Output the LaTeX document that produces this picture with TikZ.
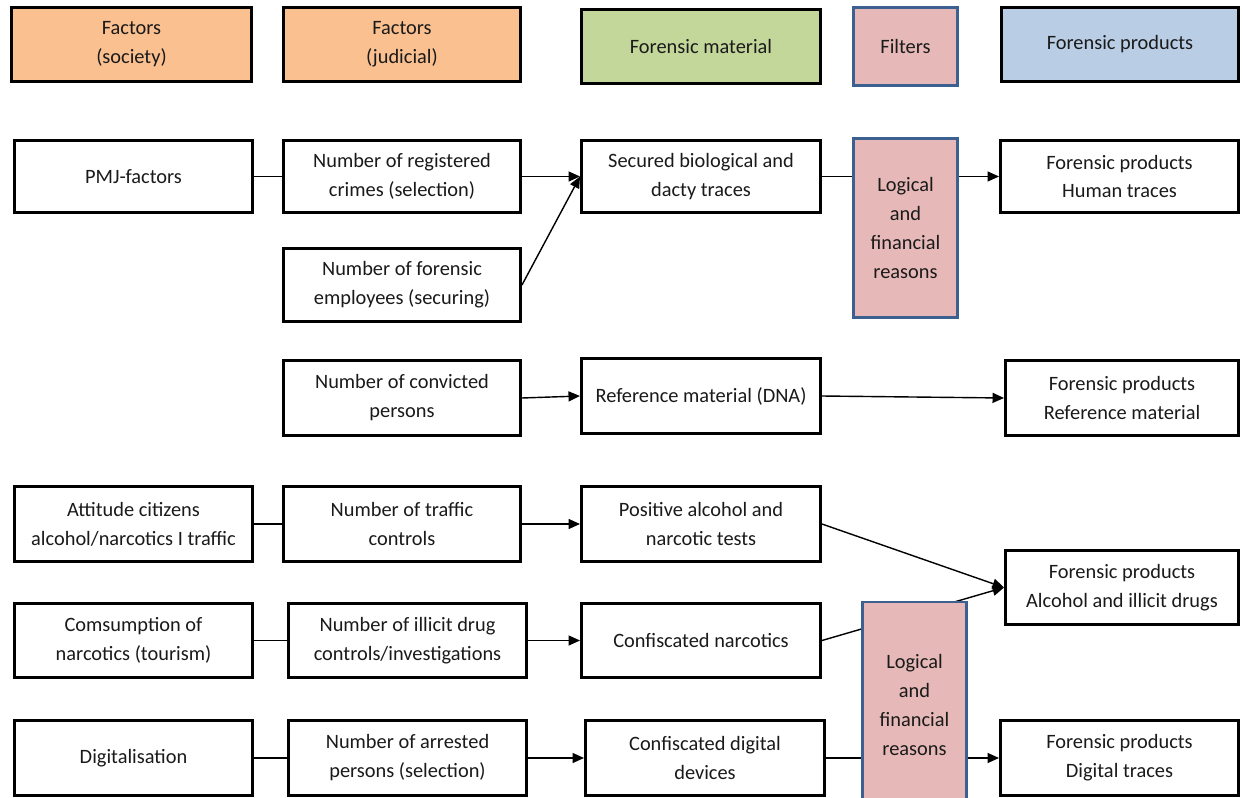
\documentclass[tikz,border=0pt]{standalone}
\usepackage{fontspec}
\setmainfont{Carlito}
\usetikzlibrary{arrows.meta,backgrounds}

\definecolor{socorange}{HTML}{FAC090}
\definecolor{matgreen}{HTML}{C4D79B}
\definecolor{filtpink}{HTML}{E6B9B8}
\definecolor{prodblue}{HTML}{B9CDE5}
\definecolor{filtedge}{HTML}{3C6090}
\definecolor{txtgray}{HTML}{1A1A1A}

\tikzset{
    box/.style={draw=black, line width=1.7pt, fill=white, align=center, inner sep=0pt,
        text=txtgray, font=\fontsize{11.6}{16.5}\selectfont},
    filterbox/.style={box, draw=filtedge, line width=1.5pt, fill=filtpink},
    link/.style={line width=0.8pt},
    flow/.style={link, -{Triangle[length=2.3mm,width=2mm]}}
}

\begin{document}
\begin{tikzpicture}[x=0.02cm, y=-0.02cm]
        \useasboundingbox (0, 0) rectangle (1242, 798);
        % header row
        \node[box, fill=socorange, minimum width=4.8cm, minimum height=1.47cm] (fsoc) at (131.5, 44.5) {Factors\\(society)};
        \node[box, fill=socorange, minimum width=4.74cm, minimum height=1.47cm] (fjud) at (402, 44.5) {Factors\\(judicial)};
        \node[box, fill=matgreen, minimum width=4.78cm, minimum height=1.47cm] (fmat) at (701, 46.5) {Forensic material};
        \node[filterbox, minimum width=2.07cm, minimum height=1.55cm] (filt) at (905.5, 46.5) {Filters};
        \node[box, fill=prodblue, minimum width=4.74cm, minimum height=1.47cm] (fprod) at (1120, 44.5) {Forensic products};
        % human traces
        \node[box, minimum width=4.76cm, minimum height=1.43cm] (pmj) at (133.5, 176.5) {PMJ-factors};
        \node[box, minimum width=4.74cm, minimum height=1.43cm] (regcr) at (402, 176.5) {Number of registered\\crimes (selection)};
        \node[box, minimum width=4.78cm, minimum height=1.43cm] (secur) at (701, 176.5) {Secured biological and\\dacty traces};
        \node[filterbox, minimum width=2.07cm, minimum height=3.57cm] (lfr1) at (905.5, 228) {Logical\\and\\financial\\reasons};
        \node[box, minimum width=4.76cm, minimum height=1.43cm] (human) at (1119.5, 176.5) {Forensic products\\Human traces};
        \node[box, minimum width=4.74cm, minimum height=1.45cm] (employ) at (402, 285) {Number of forensic\\employees (securing)};
        % reference material
        \node[box, minimum width=4.74cm, minimum height=1.49cm] (convict) at (402, 398) {Number of convicted\\persons};
        \node[box, minimum width=4.78cm, minimum height=1.49cm] (refmat) at (701, 396) {Reference material (DNA)};
        \node[box, minimum width=4.66cm, minimum height=1.49cm] (prodref) at (1122, 398) {Forensic products\\Reference material};
        % alcohol, drugs, digital
        \node[box, minimum width=4.76cm, minimum height=1.49cm] (attit) at (133.5, 524) {Attitude citizens\\alcohol/narcotics I traffic};
        \node[box, minimum width=4.74cm, minimum height=1.49cm] (traffic) at (402, 524) {Number of traffic\\controls};
        \node[box, minimum width=4.78cm, minimum height=1.49cm] (posit) at (701, 524) {Positive alcohol and\\narcotic tests};
        \node[box, minimum width=4.66cm, minimum height=1.47cm] (alcdr) at (1122, 587.5) {Forensic products\\Alcohol and illicit drugs};
        \node[box, minimum width=4.76cm, minimum height=1.47cm] (consum) at (133.5, 640.5) {Comsumption of\\narcotics (tourism)};
        \node[box, minimum width=4.76cm, minimum height=1.47cm] (illicit) at (407.5, 640.5) {Number of illicit drug\\controls/investigations};
        \node[box, minimum width=4.78cm, minimum height=1.47cm] (confnar) at (701, 640.5) {Confiscated narcotics};
        \node[filterbox, minimum width=2.07cm, minimum height=4.12cm] (lfr2) at (914.5, 705) {Logical\\and\\financial\\reasons};
        \node[box, minimum width=4.76cm, minimum height=1.49cm] (digit) at (133.5, 758) {Digitalisation};
        \node[box, minimum width=4.76cm, minimum height=1.49cm] (arrest) at (407.5, 758) {Number of arrested\\persons (selection)};
        \node[box, minimum width=4.78cm, minimum height=1.49cm] (confdig) at (705, 758) {Confiscated digital\\devices};
        \node[box, minimum width=4.76cm, minimum height=1.49cm] (digtr) at (1119.5, 758) {Forensic products\\Digital traces};

        \begin{scope}[on background layer]
            \draw[link] (pmj) -- (regcr);
            \draw[flow] (regcr.east) -- (secur.west);
            \draw[flow] (employ.east) -- (secur.west);
            \draw[link] (secur.east) -- (secur.east -| lfr1.west);
            \draw[flow] (lfr1.east |- human) -- (human.west);
            \draw[flow] (convict.east) -- (refmat.west);
            \draw[flow] (refmat.east) -- (prodref.west);
            \draw[link] (attit) -- (traffic);
            \draw[flow] (traffic) -- (posit);
            \draw[flow] (posit.east) -- (alcdr.west);
            \draw[link] (consum) -- (illicit);
            \draw[flow] (illicit) -- (confnar);
            \draw[flow] (confnar.east) -- (alcdr.west);
            \draw[link] (digit) -- (arrest);
            \draw[flow] (arrest) -- (confdig);
            \draw[link] (confdig.east) -- (confdig.east -| lfr2.west);
            \draw[flow] (lfr2.east |- digtr) -- (digtr.west);
        \end{scope}
    \end{tikzpicture}
\end{document}
